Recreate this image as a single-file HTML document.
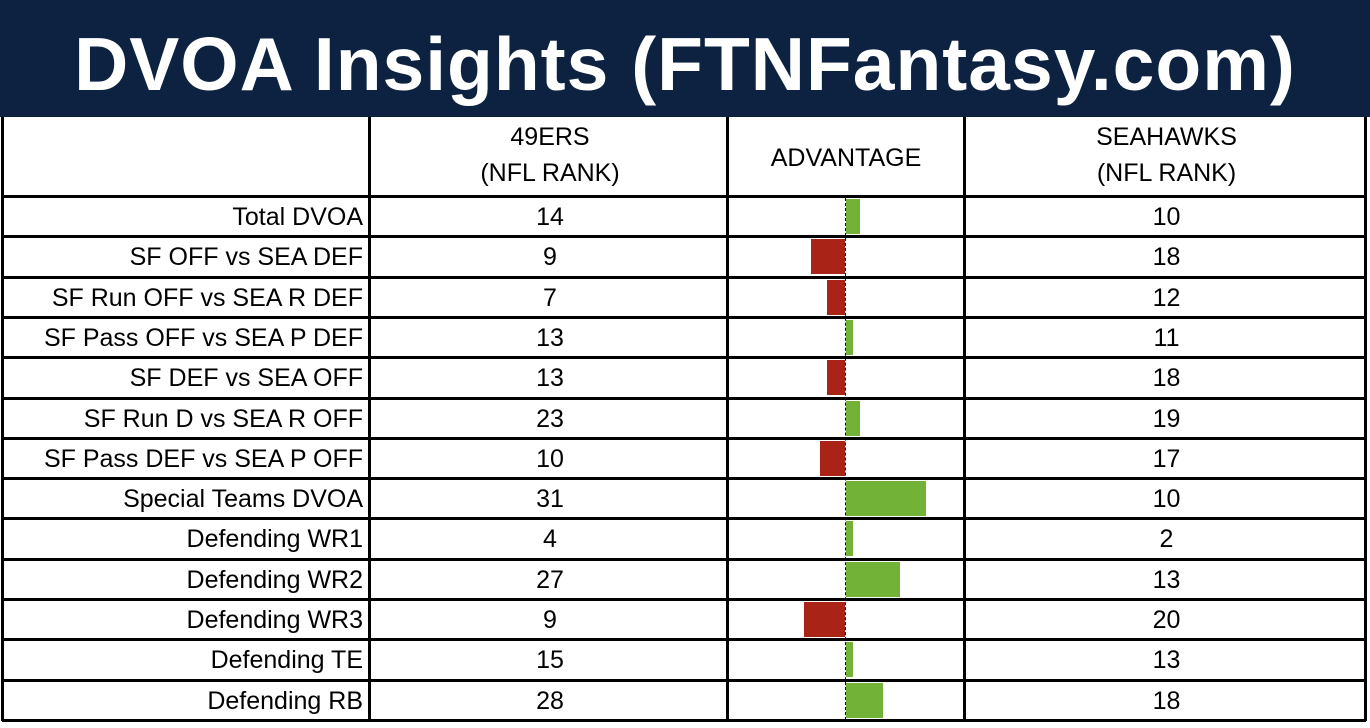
<!DOCTYPE html>
<html><head><style>
body{margin:0;width:1370px;height:728px;background:#fff;position:relative;overflow:hidden;font-family:"Liberation Sans",sans-serif}
#title{position:absolute;left:0;top:0;width:1370px;height:117px;background:#0c2240;color:#fff;font-weight:bold;font-size:75px;text-align:center;line-height:128px;letter-spacing:1px;overflow:hidden}
.h{position:absolute;height:3px;background:#000;left:2px;width:1364px}
.v{position:absolute;width:3px;background:#000;top:117px;height:604px}
.t{position:absolute;font-size:25px;color:#000;line-height:40px;height:40px;white-space:nowrap}
.l{left:4px;width:359px;text-align:right}
.c1{left:372px;width:356px;text-align:center}
.c3{left:967px;width:399px;text-align:center}
.b{position:absolute;height:35px}
.g{background:#72b236}.r{background:#a92316}
#ax{position:absolute;left:845px;top:198px;height:522px;border-left:1px dashed #000}
</style></head><body>
<div id="title">DVOA Insights (FTNFantasy.com)</div>
<div class="v" style="left:1px"></div><div class="v" style="left:368px"></div><div class="v" style="left:726px"></div><div class="v" style="left:963px"></div><div class="v" style="left:1364px"></div>
<div class="t c1" style="top:117px;line-height:36px;height:80px;padding-top:2px">49ERS<br>(NFL RANK)</div>
<div class="t" style="left:729px;width:234px;text-align:center;top:138px">ADVANTAGE</div>
<div class="t c3" style="top:117px;line-height:36px;height:80px;padding-top:2px">SEAHAWKS<br>(NFL RANK)</div>
<div id="ax"></div>
<div id="rows"></div>
<script>
const d=[["Total DVOA",14,10,846,860],["SF OFF vs SEA DEF",9,18,811,845],["SF Run OFF vs SEA R DEF",7,12,827,845],["SF Pass OFF vs SEA P DEF",13,11,846,853],["SF DEF vs SEA OFF",13,18,827,845],["SF Run D vs SEA R OFF",23,19,846,860],["SF Pass DEF vs SEA P OFF",10,17,820,845],["Special Teams DVOA",31,10,846,926],["Defending WR1",4,2,846,853],["Defending WR2",27,13,846,900],["Defending WR3",9,20,804,845],["Defending TE",15,13,846,853],["Defending RB",28,18,846,883]];
let h='<div class="h" style="top:195px"></div>';
d.forEach((r,i)=>{const y=196+i*40.3;
h+=`<div class="t l" style="top:${y+1}px">${r[0]}</div><div class="t c1" style="top:${y+1}px">${r[1]}</div><div class="t c3" style="top:${y+1}px">${r[2]}</div>`;
h+=`<div class="b ${r[3]<845?'r':'g'}" style="left:${r[3]}px;width:${r[4]-r[3]}px;top:${y+3}px"></div>`;
h+=`<div class="h" style="top:${y+40.3-1}px"></div>`;});
document.getElementById('rows').innerHTML=h;
</script>
</body></html>
